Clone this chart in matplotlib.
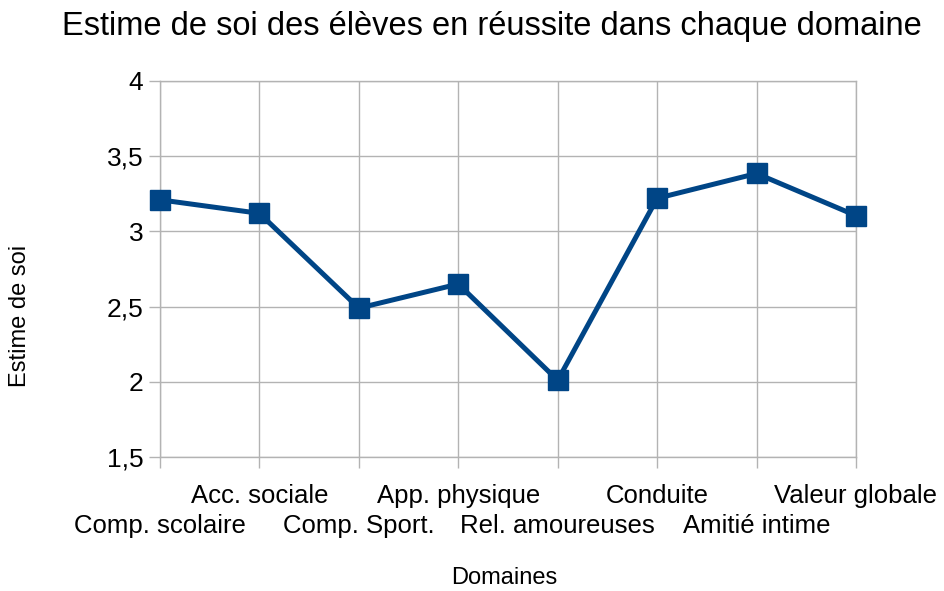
import matplotlib.pyplot as plt

plt.rcParams['font.family'] = ['Liberation Sans', 'DejaVu Sans']

domaines = ['Comp. scolaire', 'Acc. sociale', 'Comp. Sport.', 'App. physique',
            'Rel. amoureuses', 'Conduite', 'Amitié intime', 'Valeur globale']
estime = [3.21, 3.12, 2.49, 2.65, 2.01, 3.22, 3.385, 3.105]
yticks = [1.5, 2, 2.5, 3, 3.5, 4]
ytick_labels = ['1,5', '2', '2,5', '3', '3,5', '4']

grid_col = '#b3b3b3'
line_col = '#004586'

fig = plt.figure(figsize=(9.45, 5.91), dpi=100)
ax = fig.add_axes([160/945, 1 - 457/591, (856-160)/945, (457-81)/591])

x = list(range(len(domaines)))
ax.plot(x, estime, color=line_col, linewidth=3.6, marker='s', markersize=14,
        clip_on=False, zorder=3)

ax.set_xlim(0, len(domaines) - 1)
ax.set_ylim(1.5, 4)
ax.set_yticks(yticks, ytick_labels)
ax.set_xticks(x, domaines)
ax.grid(True, color=grid_col, linewidth=1)
for s in ax.spines.values():
    s.set_color(grid_col)
    s.set_linewidth(1)
ax.tick_params(axis='both', colors=grid_col, labelcolor='black', labelsize=18.5,
               length=8, width=1)
ax.tick_params(axis='y', pad=4, labelsize=19)
for i, t in enumerate(ax.xaxis.get_major_ticks()):
    t.set_pad(33 if i % 2 == 0 else 11.5)

fig.text(492/945, 1 - 26/591, 'Estime de soi des élèves en réussite dans chaque domaine',
         ha='center', va='center', fontsize=23.5)
fig.text(20/945, 1 - 316/591, 'Estime de soi', rotation=90, ha='center', va='center',
         fontsize=17)
fig.text(504/945, 1 - 578/591, 'Domaines', ha='center', va='center', fontsize=17)

fig.savefig('out.png', dpi=100)
